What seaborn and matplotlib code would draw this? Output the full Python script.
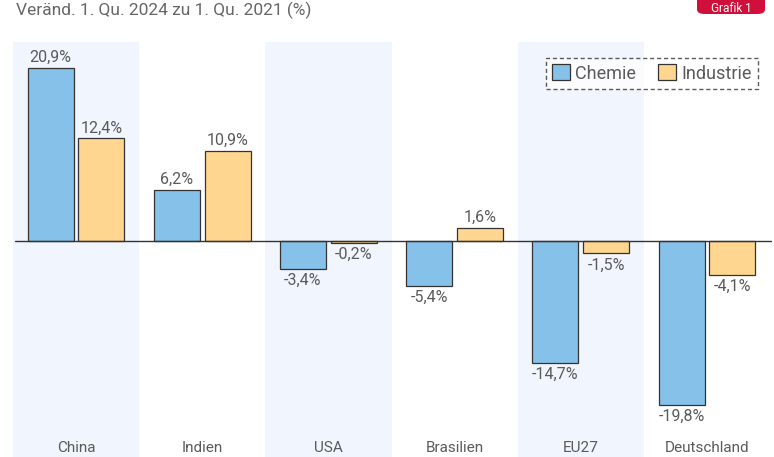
import matplotlib
matplotlib.use("Agg")
import matplotlib.pyplot as plt
import matplotlib.patches as mpatches
import pandas as pd
import seaborn as sns

laender = ["China", "Indien", "USA", "Brasilien", "EU27", "Deutschland"]
chemie = [20.9, 6.2, -3.4, -5.4, -14.7, -19.8]
industrie = [12.4, 10.9, -0.2, 1.6, -1.5, -4.1]
reihen = ["Chemie", "Industrie"]
farben = ["#85C1E9", "#FFD68F"]
untertitel = "Veränd. 1. Qu. 2024 zu 1. Qu. 2021 (%)"

df = pd.DataFrame({
    "land": laender * 2,
    "reihe": ["Chemie"] * len(laender) + ["Industrie"] * len(laender),
    "wert": chemie + industrie,
})

sns.set_style("white")
plt.rcParams["font.family"] = ["Roboto", "DejaVu Sans"]

W, H = 774, 457
fig = plt.figure(figsize=(W / 100, H / 100), dpi=100)
ax = fig.add_axes([0, 0, 1, 1])

# pixel mapping of the original layout
x0, dx = 76, 126.2
y0, dy = 241, 8.28
xlim = (-x0 / dx, (W - x0) / dx)
ylim = (-(H - y0) / dy, y0 / dy)

# shaded bands behind every other country
for i in range(0, len(laender), 2):
    ax.axvspan(i - 0.5, i + 0.5, ymin=0, ymax=1 - 42 / H, color="#F1F5FD", zorder=0, lw=0)

sns.barplot(data=df, x="land", y="wert", hue="reihe", hue_order=reihen, order=laender,
            palette=farben, saturation=1, width=0.808, gap=0.098, edgecolor="#333333",
            linewidth=0.9, legend=False, ax=ax, zorder=2)
ax.set_xlim(*xlim)
ax.set_ylim(*ylim)

ax.axhline(0, xmin=15 / W, xmax=771 / W, color="#333333", lw=1.0, zorder=3)

lab_col = "#5a5a5a"
for cont in ax.containers:
    for bar in cont:
        v = bar.get_height()
        xc = bar.get_x() + bar.get_width() / 2
        txt = f"{v:.1f}%".replace(".", ",")
        if v >= 0:
            ax.annotate(txt, (xc, v), xytext=(0, 2), textcoords="offset points",
                        ha="center", va="bottom", fontsize=11.5, color=lab_col)
        else:
            ax.annotate(txt, (xc, v), xytext=(0, -3), textcoords="offset points",
                        ha="center", va="top", fontsize=11.5, color=lab_col)

# country labels at the bottom edge
for i, name in enumerate(laender):
    ax.text(i, -(455 - y0) / dy, name, ha="center", va="bottom", fontsize=11,
            color=lab_col)

ax.set_xticks([])
ax.set_yticks([])
ax.set_xlabel("")
ax.set_ylabel("")
for s in ax.spines.values():
    s.set_visible(False)

handles = [mpatches.Patch(facecolor=c, edgecolor="#333333", lw=0.9, label=r)
           for c, r in zip(farben, reihen)]
leg = ax.legend(handles=handles, ncol=2, loc="upper right",
                bbox_to_anchor=(758 / W, 1 - 58 / H), borderaxespad=0,
                frameon=True, fancybox=False, fontsize=13, handlelength=1.0,
                handleheight=1.0, handletextpad=0.3, columnspacing=1.2,
                borderpad=0.35)
fr = leg.get_frame()
fr.set_linestyle((0, (3, 2)))
fr.set_edgecolor("#333333")
fr.set_linewidth(1.0)
for t in leg.get_texts():
    t.set_color(lab_col)

# subtitle at the top edge
fig.text(16 / W, 1 - 2 / H, untertitel, ha="left", va="top", fontsize=12.5,
         color="#666666")

# red badge
badge = mpatches.FancyBboxPatch((697 / W, 1 - 14 / H), 68 / W, 30 / H,
                                boxstyle="round,pad=0,rounding_size=0.01",
                                transform=fig.transFigure, facecolor="#D0103A",
                                edgecolor="none")
fig.patches.append(badge)
fig.text(731 / W, 1 - 2 / H, "Grafik 1", ha="center", va="top", fontsize=8.5,
         color="white")

fig.savefig("out.png", dpi=100)
